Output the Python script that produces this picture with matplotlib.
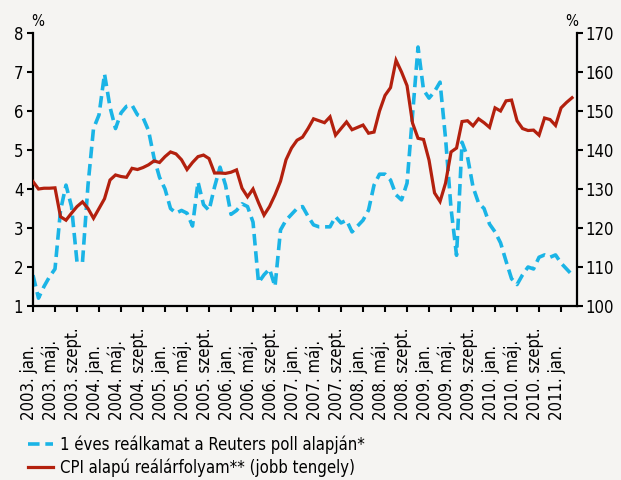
import matplotlib
matplotlib.use('Agg')
import matplotlib.pyplot as plt
import matplotlib.transforms as mtransforms
from matplotlib.lines import Line2D

# ----------------------------------------
# Data (monthly, 2003 jan. -> 2011 márc.)
# ----------------------------------------
months = list(range(99))

# 1 éves reálkamat (left axis, %)
real_rate = [
    1.79, 1.20, 1.50, 1.75, 1.95, 3.45, 4.10, 3.55, 2.13, 2.13,
    4.10, 5.55, 5.90, 6.95, 6.10, 5.55, 5.95, 6.12, 6.15, 5.90,
    5.83, 5.50, 4.80, 4.30, 4.00, 3.50, 3.38, 3.45, 3.38, 3.05,
    4.18, 3.60, 3.45, 4.05, 4.56, 4.10, 3.35, 3.45, 3.62, 3.55,
    3.15, 1.60, 1.80, 1.95, 1.50, 2.95, 3.20, 3.35, 3.50, 3.55,
    3.30, 3.08, 3.03, 3.03, 3.03, 3.29, 3.13, 3.20, 2.90, 3.05,
    3.20, 3.46, 4.10, 4.38, 4.38, 4.23, 3.85, 3.72, 4.15, 5.90,
    7.64, 6.54, 6.33, 6.50, 6.74, 5.30, 3.50, 2.30, 5.20, 4.82,
    4.05, 3.64, 3.50, 3.10, 2.90, 2.62, 2.15, 1.70, 1.55, 1.80,
    2.00, 1.95, 2.25, 2.31, 2.25, 2.31, 2.10, 1.95, 1.80,
]

# CPI alapú reálárfolyam (right axis)
reer = [
    131.9, 130.0, 130.2, 130.2, 130.3, 122.9, 122.0, 123.8, 125.5, 126.7,
    125.0, 122.5, 125.0, 127.5, 132.3, 133.6, 133.2, 133.0, 135.3, 135.0,
    135.5, 136.2, 137.2, 136.8, 138.3, 139.5, 139.0, 137.5, 135.0, 136.8,
    138.3, 138.7, 137.8, 134.1, 134.1, 134.0, 134.3, 134.9, 130.2, 128.0,
    130.0, 126.5, 123.3, 125.5, 128.5, 132.0, 137.5, 140.5, 142.5, 143.3,
    145.5, 148.0, 147.5, 147.0, 148.5, 143.8, 145.5, 147.2, 145.2, 145.8,
    146.4, 144.3, 144.6, 150.0, 154.0, 156.0, 163.0, 160.0, 156.5, 146.9,
    143.0, 142.7, 137.4, 129.0, 126.8, 131.5, 139.5, 140.5, 147.3, 147.5,
    146.2, 148.0, 147.0, 145.8, 150.8, 150.0, 152.6, 152.8, 147.5, 145.5,
    145.0, 145.1, 143.8, 148.2, 147.8, 146.3, 150.8, 152.2, 153.4,
]

years = list(range(2003, 2012))
month_names = ['jan.', 'máj.', 'szept.']
tick_labels = [f'{y}. {m}' for y in years for m in month_names][:25]
tick_pos = list(range(0, 97, 4))

label_rate = '1 éves reálkamat a Reuters poll alapján*'
label_reer = 'CPI alapú reálárfolyam** (jobb tengely)'

# ----------------------------------------
# Style
# ----------------------------------------
bg = '#f5f4f2'
blue = '#1ab4e6'
red = '#b3200e'
plt.rcParams['font.family'] = ['DejaVu Sans']
plt.rcParams['font.stretch'] = 'condensed'
fs = 12

fig = plt.figure(figsize=(6.21, 4.8), dpi=100, facecolor=bg)
ax = fig.add_axes([33 / 621, 1 - 306 / 480, 544 / 621, 273 / 480])
ax.set_facecolor(bg)
ax2 = ax.twinx()

ax.plot(months, real_rate, color=blue, lw=2.6, dashes=(3.2, 1.6),
        solid_capstyle='butt')
ax2.plot(months, reer, color=red, lw=2.3, solid_joinstyle='miter')

ax.set_xlim(0, 98.9)
ax.set_ylim(1, 8)
ax2.set_ylim(100, 170)
ax.set_yticks(range(1, 9))
ax2.set_yticks(range(100, 171, 10))
ax.set_xticks(tick_pos)
ax.set_xticklabels([])

for a in (ax, ax2):
    a.spines['top'].set_visible(False)
    for s in a.spines.values():
        s.set_linewidth(1.6)
        s.set_color('black')
ax.spines['right'].set_visible(False)
ax2.spines['left'].set_visible(False)
ax2.spines['bottom'].set_visible(False)

ax.tick_params(axis='both', length=4, width=1.5, direction='out',
               labelsize=fs, pad=3)
ax2.tick_params(axis='y', length=4, width=1.5, direction='out',
                labelsize=fs, pad=2)

# rotated date labels, anchored at their start (bottom)
trans = mtransforms.blended_transform_factory(ax.transData, fig.transFigure)
for p, lab in zip(tick_pos, tick_labels):
    ax.text(p - 0.8, 1 - 420 / 480, lab, rotation=90, ha='center',
            va='bottom', fontsize=fs, transform=trans)

fig.text(38 / 621, 1 - 22 / 480, '%', ha='center', va='center', fontsize=11)
fig.text(572 / 621, 1 - 22 / 480, '%', ha='center', va='center', fontsize=11)

handles = [
    Line2D([], [], color=blue, lw=2.6, dashes=(3.2, 1.6)),
    Line2D([], [], color=red, lw=2.3),
]
fig.legend(handles, [label_rate, label_reer], loc='upper left',
           bbox_to_anchor=(28 / 621, 1 - 435 / 480), frameon=False,
           fontsize=fs, handlelength=1.5, handletextpad=0.4,
           labelspacing=0.3, borderpad=0, borderaxespad=0)

fig.savefig('out.png', dpi=100, facecolor=bg)
